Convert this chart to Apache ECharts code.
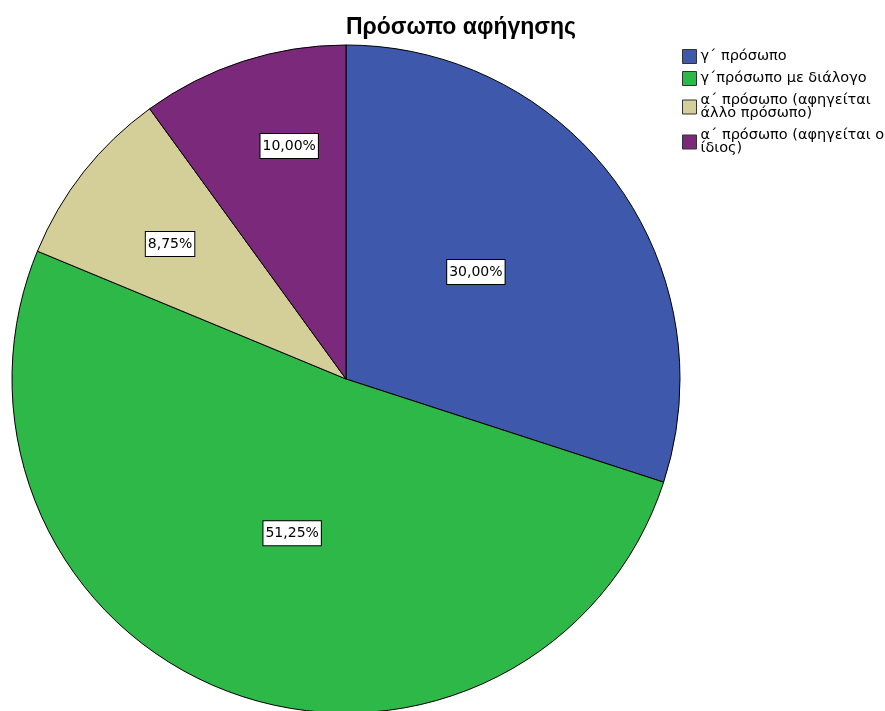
<!DOCTYPE html>
<html>
<head>
<meta charset="utf-8">
<script src="https://cdn.jsdelivr.net/npm/echarts@6/dist/echarts.min.js"></script>
<style>
  html, body { margin: 0; padding: 0; background: #ffffff; }
  #chart { width: 885px; height: 711px; }
</style>
</head>
<body>
<div id="chart"></div>
<script>
// Narrative person categories and their counts
const categories = [
  'γ΄ πρόσωπο',
  'γ΄πρόσωπο με διάλογο',
  'α΄ πρόσωπο (αφηγείται άλλο πρόσωπο)',
  'α΄ πρόσωπο (αφηγείται ο ίδιος)'
];
const counts = [24, 41, 7, 8];
// Legend text, wrapped onto two lines where needed
const legendLabels = [
  'γ΄ πρόσωπο',
  'γ΄πρόσωπο με διάλογο',
  'α΄ πρόσωπο (αφηγείται\nάλλο πρόσωπο)',
  'α΄ πρόσωπο (αφηγείται ο\nίδιος)'
];

const colors = ['#3E58AC', '#2EB848', '#D4CE99', '#7B2A7B'];
// where each percentage label sits: fraction of the radius, and a small
// angular nudge (degrees, clockwise) away from the slice's middle
const labelRadius = [0.504, 0.489, 0.664, 0.718];
const labelNudge = [-3.5, -1, -0.75, 4.3];

const CX = 346, CY = 379, R = 334;
const TITLE_FONT = 'Liberation Sans, Arial, sans-serif';
const FONT = 'DejaVu Sans, Verdana, sans-serif';

const chart = echarts.init(document.getElementById('chart'), null, { renderer: 'canvas' });

chart.setOption({
  backgroundColor: '#ffffff',
  animation: false,
  title: {
    text: 'Πρόσωπο αφήγησης',
    left: 456,
    top: 11,
    textAlign: 'center',
    textStyle: {
      fontFamily: TITLE_FONT,
      fontSize: 23,
      fontWeight: 'bold',
      color: '#000000'
    }
  },
  legend: {
    orient: 'vertical',
    left: 682,
    top: 49,
    padding: 0,
    itemWidth: 14,
    itemHeight: 14,
    itemGap: 7,
    icon: 'rect',
    selectedMode: false,
    formatter: function (name) {
      return legendLabels[categories.indexOf(name)];
    },
    itemStyle: { borderColor: '#333333', borderWidth: 1 },
    textStyle: {
      fontFamily: FONT,
      fontSize: 14.5,
      lineHeight: 13,
      color: '#000000',
      padding: [0, 0, 0, -1]
    },
    data: categories
  },
  series: [{
    type: 'pie',
    center: [CX, CY],
    radius: R,
    startAngle: 90,
    clockwise: true,
    avoidLabelOverlap: false,
    silent: true,
    itemStyle: { borderColor: '#000000', borderWidth: 1 },
    label: {
      show: true,
      position: 'inside',
      formatter: function (p) {
        return p.percent.toFixed(2).replace('.', ',') + '%';
      },
      fontFamily: FONT,
      fontSize: 14,
      lineHeight: 16,
      color: '#000000',
      backgroundColor: '#ffffff',
      borderColor: '#000000',
      borderWidth: 1,
      padding: [4, 2, 4, 2]
    },
    labelLine: { show: false },
    labelLayout: function (params) {
      const r = params.labelRect;
      const lx = r.x + r.width / 2, ly = r.y + r.height / 2;
      // angle of the default label position, clockwise from 12 o'clock
      const a = Math.atan2(lx - CX, -(ly - CY)) + labelNudge[params.dataIndex] * Math.PI / 180;
      const d = labelRadius[params.dataIndex] * R;
      return {
        x: CX + d * Math.sin(a),
        y: CY - d * Math.cos(a),
        align: 'center',
        verticalAlign: 'middle'
      };
    },
    data: categories.map(function (name, i) {
      return { name: name, value: counts[i], itemStyle: { color: colors[i] } };
    })
  }]
});
</script>
</body>
</html>
